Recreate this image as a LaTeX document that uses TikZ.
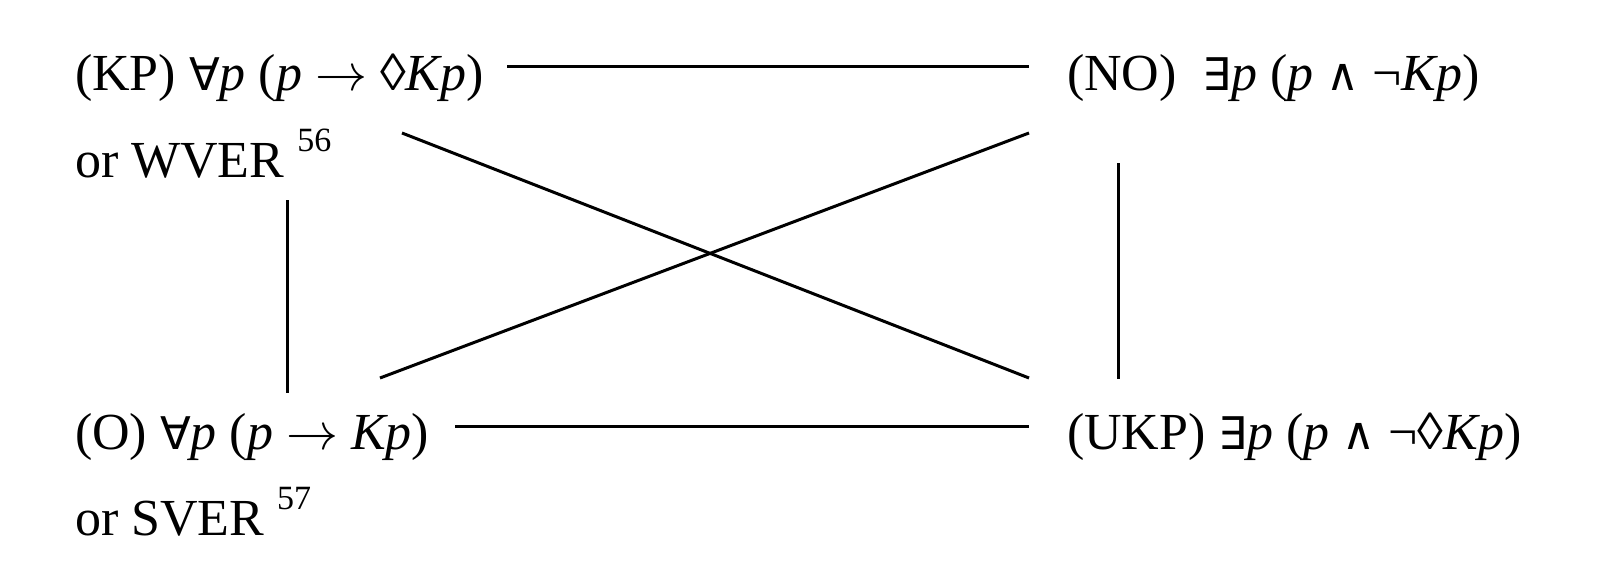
\RequirePackage{fix-cm}
\documentclass[tikz,border=0pt]{standalone}
\usepackage{fontspec}
\setmainfont{Liberation Serif}
\newfontfamily\symf{DejaVu Sans}
\begin{document}
\begin{tikzpicture}[x=1pt,y=-1pt,
  lbl/.style={anchor=base west,inner sep=0pt,outer sep=0pt,font=\fontsize{52}{62}\selectfont},
  conn/.style={line width=3pt}]
\useasboundingbox (0,0) rectangle (1600,586);
\newcommand{\supn}[1]{\raisebox{26pt}{\fontsize{34}{34}\selectfont #1}}
\newcommand{\fa}{{\symf\fontsize{45}{50}\selectfont ∀}}
\newcommand{\ex}{{\symf\fontsize{45}{50}\selectfont ∃}}
\newcommand{\wg}{{\symf\fontsize{45}{50}\selectfont ∧}}
\newcommand{\arr}{$\rightarrow$}
\node[lbl] (kp) at (75,90) {(KP) \fa\textit{p} (\textit{p} \arr{} ◊\textit{Kp})};
\node[lbl] (wver) at (75,177) {or WVER \supn{56}};
\node[lbl] (no) at (1067,90) {(NO)\hspace{26pt}\ex\textit{p} (\textit{p} \wg{} ¬\textit{Kp})};
\node[lbl] (o) at (75,449) {(O) \fa\textit{p} (\textit{p} \arr{} \textit{Kp})};
\node[lbl] (sver) at (75,535) {or SVER \supn{57}};
\node[lbl] (ukp) at (1067,449) {(UKP) \ex\textit{p} (\textit{p} \wg{} ¬◊\textit{Kp})};
\coordinate (a1) at (507,67);
\coordinate (a2) at (1029,67);
\coordinate (b1) at (455,426);
\coordinate (b2) at (1029,426);
\coordinate (c1) at (402,133);
\coordinate (c2) at (1029,378);
\coordinate (d1) at (380,378);
\coordinate (d2) at (1029,133);
\coordinate (e1) at (287,200);
\coordinate (e2) at (287,393);
\coordinate (f1) at (1118,163);
\coordinate (f2) at (1118,379);
\draw[conn] (a1) -- (a2);
\draw[conn] (b1) -- (b2);
\draw[conn] (c1) -- (c2);
\draw[conn] (d1) -- (d2);
\draw[conn] (e1) -- (e2);
\draw[conn] (f1) -- (f2);
\end{tikzpicture}
\end{document}
